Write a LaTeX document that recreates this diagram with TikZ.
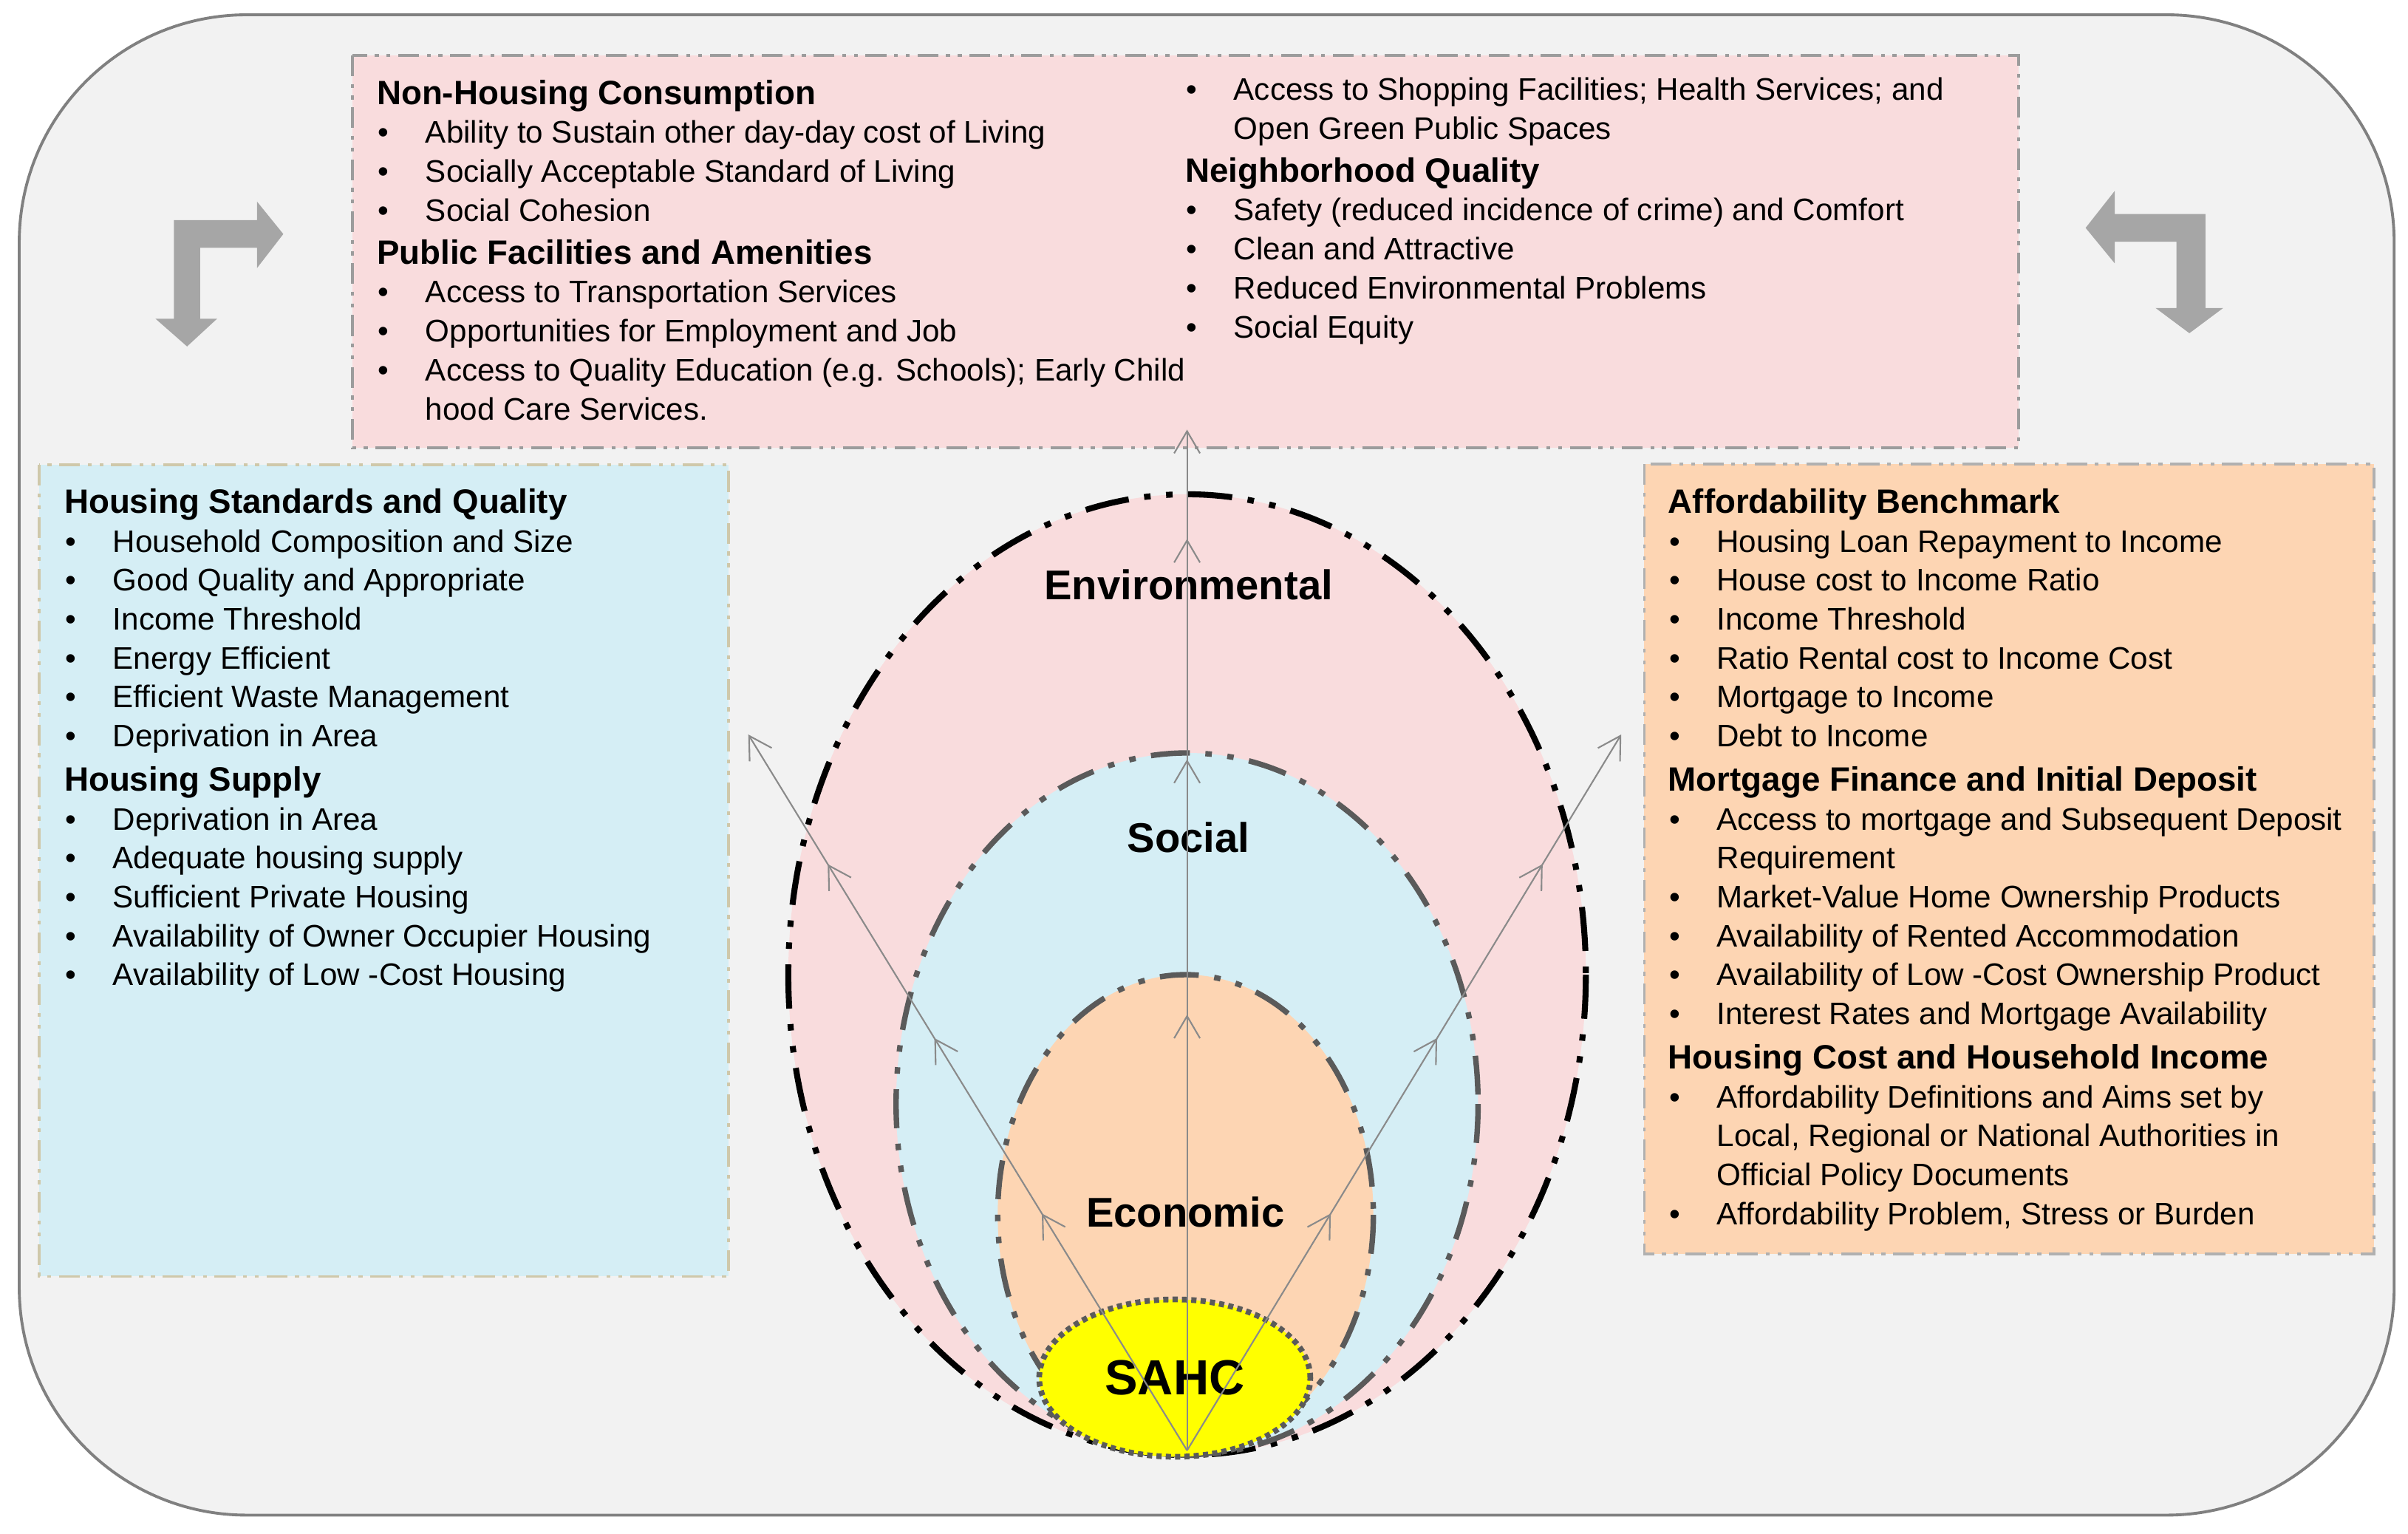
\documentclass[tikz,border=0pt]{standalone}
\usepackage{fontspec}
\setmainfont{Liberation Sans}
\usetikzlibrary{arrows.meta,decorations.markings,shapes.geometric}

\definecolor{bggray}{HTML}{F2F2F2}
\definecolor{framegray}{HTML}{808080}
\definecolor{envpink}{HTML}{F9DCDD}
\definecolor{socblue}{HTML}{D5EEF5}
\definecolor{ecopeach}{HTML}{FDD5B3}
\definecolor{boxgray}{HTML}{9C9C9C}
\definecolor{boxbeige}{HTML}{CFC8AA}
\definecolor{bentgray}{HTML}{A6A6A6}
\definecolor{rimgray}{HTML}{5A5A5A}
\definecolor{linegray}{HTML}{8A8A8A}
\definecolor{sahcyellow}{HTML}{FFFF00}

\newcommand{\itm}{\makebox[18.7pt][l]{\hspace{0.5pt}\textbullet}}
\newcommand{\cnt}{\makebox[18.7pt]{}}
\newcommand{\hd}{\fontsize{13}{15}\selectfont\bfseries}

\tikzset{
  dashdotdot/.style={dash pattern=on 8pt off 3pt on 1.5pt off 3pt on 1.5pt off 3pt},
  outerframe/.style={draw=framegray, fill=bggray, line width=1.1pt, rounded corners=30.8mm},
  pinkbox/.style={draw=boxgray, fill=envpink, line width=1.2pt, dashdotdot},
  bluebox/.style={draw=boxbeige, fill=socblue, line width=1.1pt, dashdotdot},
  peachbox/.style={draw=boxgray!80, fill=ecopeach, line width=1.1pt, dashdotdot},
  colnode/.style={anchor=north west, inner sep=0pt, align=left, font=\fontsize{12}{15}\selectfont},
  envring/.style={draw=black, fill=envpink, line width=2.3pt,
    dash pattern=on 17pt off 6pt on 2.5pt off 6pt on 2.5pt off 6pt},
  socring/.style={draw=rimgray, fill=socblue, line width=2.1pt,
    dash pattern=on 15pt off 6pt on 2.5pt off 6pt on 2.5pt off 6pt},
  ecoring/.style={draw=rimgray, fill=ecopeach, line width=2.1pt,
    dash pattern=on 15pt off 6pt on 2.5pt off 6pt on 2.5pt off 6pt},
  ringlabel/.style={font=\fontsize{16}{18}\selectfont\bfseries, inner sep=0pt},
  sahcnode/.style={ellipse, fill=sahcyellow, draw=rimgray, line width=2.2pt,
    dash pattern=on 2pt off 1.6pt, minimum width=36.7mm, minimum height=21.3mm,
    font=\fontsize{19}{21}\selectfont\bfseries, inner sep=0pt},
  bent/.style={fill=bentgray, draw=none},
  flowline/.style={draw=linegray, color=linegray, line width=0.6pt, ->},
  midheads/.style n args={3}{postaction={decorate}, decoration={markings,
    mark=at position #1 with {\arrow{>}},
    mark=at position #2 with {\arrow{>}},
    mark=at position #3 with {\arrow{>}}}}
}

\begin{document}
\begin{tikzpicture}[x=0.2084mm, y=-0.2084mm, >={Straight Barb[length=3mm,width=3.5mm]}]
    \useasboundingbox (0,0) rectangle (1564,996);
    %% frame
    \path[outerframe] (12.5,9.6) rectangle (1555,984);
    %% bent arrows
    \path[bent] (113,143) -- (167,143) -- (167,131) -- (184,152) -- (167,174) -- (167,161)
        -- (130,161) -- (130,207) -- (141,207) -- (121.5,225) -- (101,207) -- (113,207) -- cycle;
    \path[bent] (1432.4,139) -- (1373.5,139) -- (1373.5,124) -- (1354.6,148) -- (1373.5,171)
        -- (1373.5,157) -- (1413.6,157) -- (1413.6,200) -- (1400,200) -- (1422,216.4)
        -- (1444,200) -- (1432.4,200) -- cycle;
    %% boxes
    \path[pinkbox] (229,36) rectangle (1311,291);
    \path[bluebox] (25.5,302) rectangle (473,829);
    \path[peachbox] (1068,301.5) rectangle (1542,814.5);
    %% top box
    \node[colnode] (nonhousing) at (244.5,51.5) {%
        {\hd Non-Housing Consumption}\\
        \itm Ability to Sustain other day-day cost of Living\\
        \itm Socially Acceptable Standard of Living\\
        \itm Social Cohesion\\[1.5pt]
        {\hd Public Facilities and Amenities}\\
        \itm Access to Transportation Services\\
        \itm Opportunities for Employment and Job\\
        \itm Access to Quality Education (e.g. Schools); Early Child\\
        \cnt hood Care Services.};
    \node[colnode] (neighbour) at (769.5,50) {%
        \itm Access to Shopping Facilities; Health Services; and\\
        \cnt Open Green Public Spaces\\[1.5pt]
        {\hd Neighborhood Quality}\\
        \itm Safety (reduced incidence of crime) and Comfort\\
        \itm Clean and Attractive\\
        \itm Reduced Environmental Problems\\
        \itm Social Equity};
    %% left box
    \node[colnode] (standards) at (41.5,317) {%
        {\hd Housing Standards and Quality}\\
        \itm Household Composition and Size\\
        \itm Good Quality and Appropriate\\
        \itm Income Threshold\\
        \itm Energy Efficient\\
        \itm Efficient Waste Management\\
        \itm Deprivation in Area\\[2pt]
        {\hd Housing Supply}\\
        \itm Deprivation in Area\\
        \itm Adequate housing supply\\
        \itm Sufficient Private Housing\\
        \itm Availability of Owner Occupier Housing\\
        \itm Availability of Low -Cost Housing};
    %% right box
    \node[colnode] (benchmark) at (1083.2,317) {%
        {\hd Affordability Benchmark}\\
        \itm Housing Loan Repayment to Income\\
        \itm House cost to Income Ratio\\
        \itm Income Threshold\\
        \itm Ratio Rental cost to Income Cost\\
        \itm Mortgage to Income\\
        \itm Debt to Income\\[2pt]
        {\hd Mortgage Finance and Initial Deposit}\\
        \itm Access to mortgage and Subsequent Deposit\\
        \cnt Requirement\\
        \itm Market-Value Home Ownership Products\\
        \itm Availability of Rented Accommodation\\
        \itm Availability of Low -Cost Ownership Product\\
        \itm Interest Rates and Mortgage Availability\\[2pt]
        {\hd Housing Cost and Household Income}\\
        \itm Affordability Definitions and Aims set by\\
        \cnt Local, Regional or National Authorities in\\
        \cnt Official Policy Documents\\
        \itm Affordability Problem, Stress or Burden};
    %% rings
    \path[envring] (771,633) ellipse [x radius=259, y radius=312];
    \path[socring] (771,717) ellipse [x radius=189, y radius=228];
    \path[ecoring] (770,789) ellipse [x radius=122, y radius=156];
    \node[sahcnode] (sahc) at (763,895) {SAHC};
    \node[ringlabel] (env) at (772,380) {Environmental};
    \node[ringlabel] (soc) at (772,544) {Social};
    \node[ringlabel] (eco) at (770,787) {Economic};
    %% flows
    \coordinate (root) at (771,942);
    \coordinate (tipL) at (486,477);
    \coordinate (tipU) at (771,279);
    \coordinate (tipR) at (1053,477);
    \draw[flowline, midheads={0.331}{0.576}{0.819}] (root) -- (tipL);
    \draw[flowline, midheads={0.427}{0.677}{0.893}] (root) -- (tipU);
    \draw[flowline, midheads={0.331}{0.576}{0.819}] (root) -- (tipR);
\end{tikzpicture}
\end{document}
